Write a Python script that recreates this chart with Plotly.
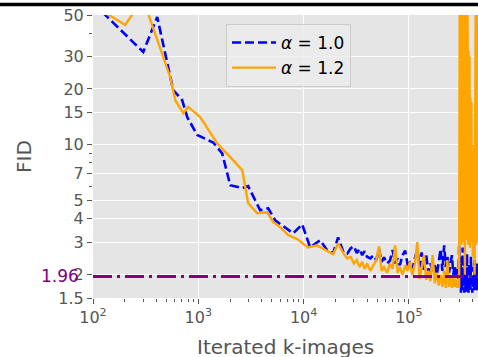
import math
import plotly.graph_objects as go

# ---------------- data ----------------
blue_early_x = [100, 300, 407, 578, 703, 785, 977, 1385, 1686, 2009, 2612, 2975,
                3866, 4603, 5370, 7960, 9690, 11530, 14350, 16720, 19060, 21250]
blue_early_y = [58, 31.6, 48.8, 19.7, 17.4, 14.1, 11.3, 10.3, 9.0, 6.07, 5.85, 6.0,
                4.45, 4.56, 3.93, 3.34, 3.74, 2.81, 3.07, 2.71, 2.61, 3.18]

orange_early_x = [120, 202, 281, 335, 541, 604, 720, 802, 1042, 1511, 2009, 2612, 2975,
                  3622, 4508, 5140, 5988, 7127, 8676, 11030, 13430, 16720, 19060, 21250]
orange_early_y = [53, 44.2, 58, 50.5, 23.2, 17.4, 14.8, 16.0, 14.1, 10.2, 8.59, 7.31, 4.85,
                  4.29, 4.34, 3.84, 3.61, 3.27, 3.11, 2.81, 2.88, 2.68, 2.58, 2.95]

noise_x = [24000, 26000, 28000, 30000, 32000, 34000, 36000, 38000, 40000, 43000,
           46000, 49000, 52000, 55000, 58000, 62000, 66000, 70000, 74000, 78000,
           82000, 87000, 92000, 97000, 102000, 108000, 114000, 120000, 126000, 132000,
           139000, 146000, 153000, 160000, 168000, 176000, 184000, 192000, 200000, 208000,
           216000, 224000, 232000, 240000, 248000, 256000, 264000, 272000, 280000, 288000,
           296000]
blue_noise_y = [2.62, 2.60, 2.78, 2.85, 2.62, 2.76, 2.55, 2.68, 2.50, 2.45,
                2.55, 2.40, 2.75, 2.35, 2.48, 2.30, 2.38, 2.72, 2.30, 2.45,
                2.25, 2.55, 2.70, 2.28, 2.33, 2.15, 2.45, 2.75, 2.20, 2.64,
                2.10, 2.55, 2.05, 2.30, 2.10, 2.25, 2.00, 2.40, 2.75, 2.10,
                2.88, 2.20, 2.50, 2.05, 2.30, 2.55, 2.00, 2.25, 1.95, 2.15,
                1.90]
orange_noise_y = [2.60, 2.45, 2.50, 2.30, 2.40, 2.20, 2.35, 2.15, 2.30, 2.10,
                  2.25, 2.40, 2.85, 2.10, 2.20, 2.05, 2.30, 2.15, 2.88, 2.05,
                  2.20, 2.00, 2.25, 2.10, 2.35, 1.99, 2.30, 3.00, 1.90, 2.20,
                  2.55, 1.88, 2.10, 1.85, 2.55, 1.80, 2.05, 1.75, 2.00, 1.72,
                  2.10, 1.70, 2.40, 1.72, 2.00, 1.70, 1.95, 1.72, 1.90, 1.70,
                  1.85]

end_x = [300000, 304000, 308000, 312000, 316000, 320000, 324000, 328000, 332000, 336000,
         340000, 344000, 348000, 352000, 356000, 360000, 364000, 368000, 372000, 376000,
         380000, 384000, 388000, 392000, 396000, 400000, 404000, 408000, 412000, 416000,
         420000, 424000, 428000, 432000, 436000, 440000, 444000, 448000, 452000]
blue_end_y = [2.9, 1.7, 2.5, 1.6, 2.2, 1.65, 2.8, 1.75, 2.0, 1.6,
              2.4, 1.7, 2.1, 1.62, 2.6, 1.8, 1.9, 1.6, 2.3, 1.7,
              2.0, 1.65, 2.5, 1.75, 1.9, 1.6, 2.2, 1.7, 2.0, 1.65,
              2.4, 1.8, 2.1, 1.7, 1.9, 1.65, 2.3, 1.8, 2.0]
orange_end_y = [1.7, 90, 3.0, 85, 2.9, 70, 3.2, 27, 3.0, 80,
                2.0, 95, 3.1, 75, 3.3, 60, 2.9, 32, 3.2, 30,
                2.8, 18, 3.4, 17, 3.0, 9.0, 2.5, 8.5, 3.1, 10,
                2.0, 9.8, 3.3, 90, 2.9, 85, 3.5, 100, 3.0]

FID_REF = 1.96
Y_TICKS = [1.5, 2, 3, 4, 5, 7, 10, 15, 20, 30, 50]
Y_MINOR = [6, 8, 9, 40]
X_TICKS = [100, 1000, 10000, 100000]
X_TICKTEXT = ["10<sup>2</sup>", "10<sup>3</sup>", "10<sup>4</sup>", "10<sup>5</sup>"]
X_MINOR = [m * 10 ** e for e in range(2, 6) for m in range(2, 10)]
X_RANGE_LOG = [2.0, 5.656]
Y_RANGE_LOG = [math.log10(1.5), math.log10(50)]

blue_x = blue_early_x + noise_x + end_x
blue_y = blue_early_y + blue_noise_y + blue_end_y
orange_x = orange_early_x + noise_x + end_x
orange_y = orange_early_y + orange_noise_y + orange_end_y

# ---------------- figure ----------------
W, H = 478, 357
ML, MR, MT, MB = 93, 0, 15, 59
PW, PH = W - ML - MR, H - MT - MB
GRAY = "#555555"
FONT = "DejaVu Sans"

fig = go.Figure()
fig.add_trace(go.Scatter(x=blue_x, y=blue_y, mode="lines", name="<i>α</i> = 1.0",
                         line=dict(color="#0000FF", width=2.6, dash="9px,4px")))
fig.add_trace(go.Scatter(x=orange_x, y=orange_y, mode="lines", name="<i>α</i> = 1.2",
                         line=dict(color="#FFA500", width=2.4)))
fig.add_trace(go.Scatter(x=[10 ** X_RANGE_LOG[0], 10 ** X_RANGE_LOG[1]], y=[FID_REF, FID_REF],
                         mode="lines", showlegend=False, hoverinfo="skip",
                         line=dict(color="#800080", width=3, dash="19px,5px,3px,5px")))

fig.update_layout(
    width=W, height=H,
    margin=dict(l=ML, r=MR, t=MT, b=MB, autoexpand=False),
    paper_bgcolor="white",
    plot_bgcolor="#E5E5E5",
    font=dict(family=FONT, size=16, color=GRAY),
    showlegend=True,
    legend=dict(x=(226 - ML) / PW, y=(MT + PH - 24) / PH, xanchor="left", yanchor="top",
                bgcolor="rgba(236,236,236,0.85)", bordercolor="#CCCCCC", borderwidth=1,
                font=dict(family=FONT, size=17, color="black"),
                itemwidth=44, tracegroupgap=0),
)
fig.update_xaxes(type="log", range=X_RANGE_LOG, automargin=False,
                 tickmode="array", tickvals=X_TICKS, ticktext=X_TICKTEXT,
                 ticks="outside", ticklen=5, tickwidth=1, tickcolor=GRAY,
                 tickfont=dict(family=FONT, size=16, color=GRAY),
                 showgrid=True, gridcolor="white", gridwidth=1.3,
                 zeroline=False, showline=False,
                 minor=dict(tickmode="array", tickvals=X_MINOR, ticks="outside",
                            ticklen=3, tickcolor=GRAY, showgrid=False))
fig.update_yaxes(type="log", range=Y_RANGE_LOG, automargin=False,
                 tickmode="array", tickvals=Y_TICKS, ticktext=[str(v) for v in Y_TICKS],
                 ticks="outside", ticklen=5, tickwidth=1, tickcolor=GRAY,
                 tickfont=dict(family=FONT, size=16, color=GRAY),
                 showgrid=True, gridcolor="white", gridwidth=1.3,
                 zeroline=False, showline=False,
                 minor=dict(tickmode="array", tickvals=Y_MINOR, ticks="outside",
                            ticklen=3, tickcolor=GRAY, showgrid=False))

# axis titles and reference label
fig.add_annotation(text="Iterated k-images", xref="paper", yref="paper",
                   x=0.5, y=(MT + PH - 347) / PH, xanchor="center", yanchor="middle",
                   showarrow=False, font=dict(family=FONT, size=20, color=GRAY))
fig.add_annotation(text="FID", xref="paper", yref="paper", textangle=-90,
                   x=(23.5 - ML) / PW, y=0.5, xanchor="center", yanchor="middle",
                   showarrow=False, font=dict(family=FONT, size=20, color=GRAY))
fig.add_annotation(text=str(FID_REF), xref="paper", yref="y",
                   x=(81 - ML) / PW, y=math.log10(FID_REF), xanchor="right", yanchor="middle",
                   showarrow=False, font=dict(family=FONT, size=17, color="#800080"))

# black rule across the top of the figure
fig.add_shape(type="line", xref="paper", yref="paper",
              x0=-ML / PW, x1=1.0, y0=(MT + PH - 4.5) / PH, y1=(MT + PH - 4.5) / PH,
              line=dict(color="black", width=3.5))

fig.write_html("out.html", config={"displayModeBar": False},
               post_script="document.body.style.margin='0';document.body.style.padding='0';")
